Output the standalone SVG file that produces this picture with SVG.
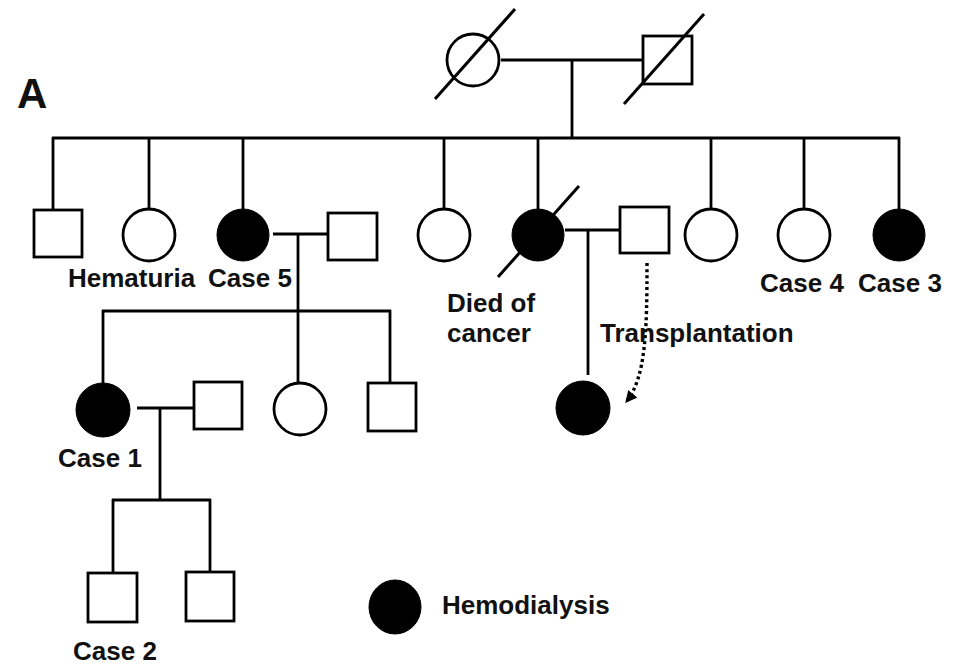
<svg xmlns="http://www.w3.org/2000/svg" width="955" height="667" viewBox="0 0 955 667">
<style>
.ln{stroke:#000;stroke-width:2.8;fill:none}
.sq{stroke:#000;stroke-width:2.8;fill:#fff}
.ci{stroke:#000;stroke-width:2.8;fill:#fff}
.af{fill:#000;stroke:#000;stroke-width:1}
.dc{stroke:#000;stroke-width:3;fill:none}
.t{font-family:"Liberation Sans",Arial,Helvetica,sans-serif;font-weight:bold;font-size:26px;fill:#111}
.dot{stroke:#000;stroke-width:3.4;fill:none;stroke-dasharray:3 3}
</style>
<defs>
<marker id="ah" viewBox="0 0 10 10" refX="9" refY="5" markerWidth="3.5" markerHeight="3.5" orient="auto" markerUnits="strokeWidth">
<path d="M0,0 L10,5 L0,10 z" fill="#000"/>
</marker>
</defs>
<rect width="955" height="667" fill="#fff"/>
<text class="t" x="17" y="108" style="font-size:42px">A</text>

<g id="connectors">
<line class="ln" x1="501" y1="60" x2="642" y2="60"/>
<line class="ln" x1="572" y1="60" x2="572" y2="138"/>
<line class="ln" x1="52" y1="138" x2="900" y2="138"/>
<line class="ln" x1="53" y1="137" x2="53" y2="210"/>
<line class="ln" x1="149" y1="137" x2="149" y2="209"/>
<line class="ln" x1="243" y1="137" x2="243" y2="209"/>
<line class="ln" x1="444" y1="137" x2="444" y2="209"/>
<line class="ln" x1="538" y1="137" x2="538" y2="209"/>
<line class="ln" x1="711" y1="137" x2="711" y2="209"/>
<line class="ln" x1="804" y1="137" x2="804" y2="209"/>
<line class="ln" x1="899" y1="137" x2="899" y2="209"/>
<line class="ln" x1="273" y1="234" x2="327" y2="234"/>
<line class="ln" x1="298" y1="234" x2="298" y2="383"/>
<line class="ln" x1="102" y1="311" x2="391" y2="311"/>
<line class="ln" x1="103" y1="310" x2="103" y2="383"/>
<line class="ln" x1="390" y1="310" x2="390" y2="383"/>
<line class="ln" x1="565" y1="230" x2="619" y2="230"/>
<line class="ln" x1="588" y1="230" x2="588" y2="375"/>
<line class="ln" x1="137" y1="408" x2="193" y2="408"/>
<line class="ln" x1="160" y1="408" x2="160" y2="500"/>
<line class="ln" x1="112" y1="500" x2="211" y2="500"/>
<line class="ln" x1="113" y1="499" x2="113" y2="573"/>
<line class="ln" x1="210" y1="499" x2="210" y2="572"/>
<path class="dot" d="M647,263 C647,330 646,378 626,402" marker-end="url(#ah)"/>
</g>

<g id="gen1-mother"><circle class="ci" cx="473" cy="60" r="26"/><line class="dc" x1="435" y1="99" x2="515" y2="9"/></g>
<g id="gen1-father"><rect class="sq" x="643" y="36" width="49" height="48"/><line class="dc" x1="624" y1="104" x2="704" y2="14"/></g>

<g id="g2-son1"><rect class="sq" x="34" y="210" width="48" height="47"/></g>
<g id="g2-hematuria"><circle class="ci" cx="149" cy="235" r="26"/><text class="t" x="68" y="287">Hematuria</text></g>
<g id="g2-case5"><circle class="af" cx="243" cy="235" r="26"/><text class="t" x="208" y="287">Case 5</text></g>
<g id="g2-case5-spouse"><rect class="sq" x="328" y="213" width="49" height="47"/></g>
<g id="g2-daughter"><circle class="ci" cx="444" cy="235" r="26"/></g>
<g id="g2-died"><circle class="af" cx="538" cy="235" r="26"/><line class="dc" x1="498" y1="277" x2="579" y2="186"/><text class="t" x="447" y="312">Died of</text><text class="t" x="447" y="342">cancer</text></g>
<g id="g2-died-spouse"><rect class="sq" x="620" y="207" width="49" height="46"/></g>
<g id="g2-daughter2"><circle class="ci" cx="711" cy="235" r="26"/></g>
<g id="g2-case4"><circle class="ci" cx="804" cy="235" r="26"/><text class="t" x="760" y="292">Case 4</text></g>
<g id="g2-case3"><circle class="af" cx="899" cy="235" r="26"/><text class="t" x="858" y="292">Case 3</text></g>

<g id="transplant-label"><text class="t" x="600" y="342">Transplantation</text></g>

<g id="g3-case1"><circle class="af" cx="103" cy="410" r="27"/><text class="t" x="58" y="467">Case 1</text></g>
<g id="g3-case1-spouse"><rect class="sq" x="194" y="382" width="48" height="47"/></g>
<g id="g3-daughter"><circle class="ci" cx="300" cy="409" r="26"/></g>
<g id="g3-son"><rect class="sq" x="368" y="383" width="48" height="48"/></g>
<g id="g3-recipient"><circle class="af" cx="583" cy="408" r="27"/></g>

<g id="g4-case2"><rect class="sq" x="88" y="573" width="49" height="49"/><text class="t" x="73" y="660">Case 2</text></g>
<g id="g4-son"><rect class="sq" x="186" y="572" width="48" height="49"/></g>

<g id="legend"><ellipse class="af" cx="395" cy="607" rx="26" ry="27"/><text class="t" x="442" y="614">Hemodialysis</text></g>
</svg>
